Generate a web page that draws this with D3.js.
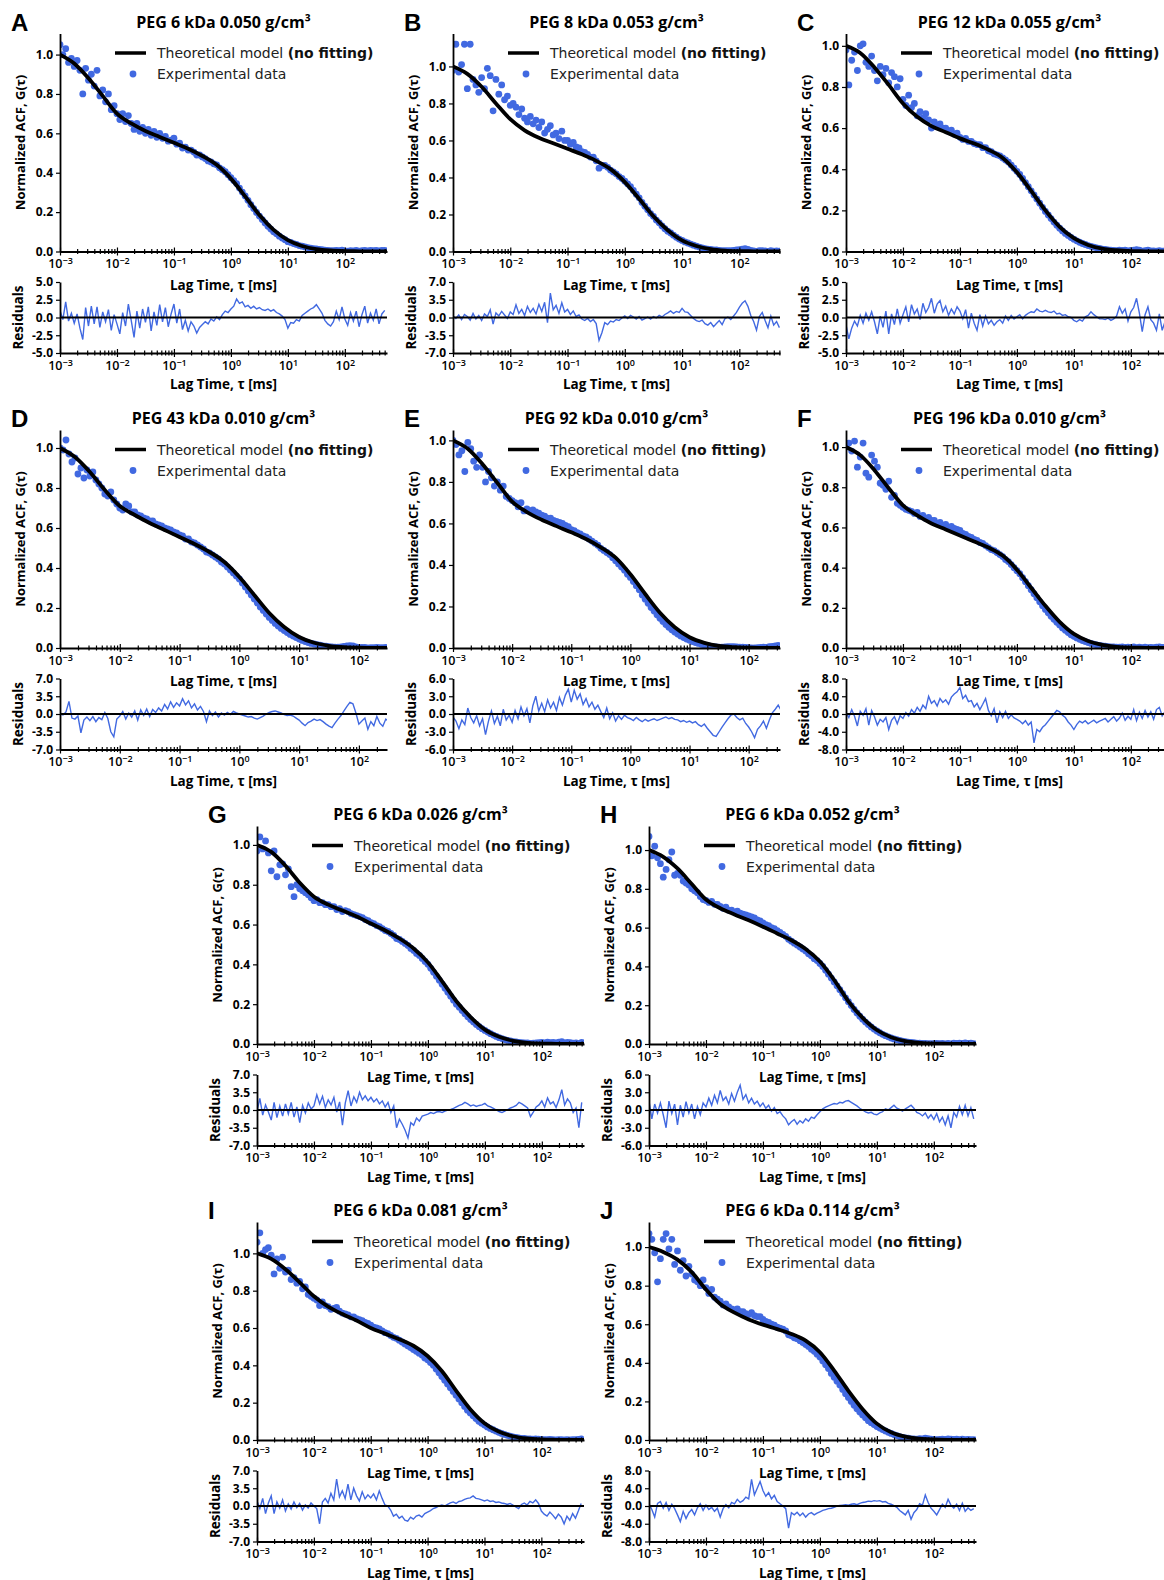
<!DOCTYPE html>
<html><head><meta charset="utf-8">
<script src="https://cdn.jsdelivr.net/npm/d3@7"></script>
<style>body{margin:0;background:#fff}svg{display:block}</style>
</head><body>
<svg id="chart" width="1164" height="1580"></svg>
<script>
// ---------- DATA ----------
// lag-time grid (log10 of tau in ms) shared by experimental points and residuals
const logLag = [-3,-2.95,-2.9,-2.85,-2.8,-2.75,-2.7,-2.65,-2.6,-2.55,
-2.5,-2.45,-2.4,-2.35,-2.3,-2.25,-2.2,-2.15,-2.1,-2.05,
-2,-1.95,-1.9,-1.85,-1.8,-1.75,-1.7,-1.65,-1.6,-1.55,
-1.5,-1.45,-1.4,-1.35,-1.3,-1.25,-1.2,-1.15,-1.1,-1.05,
-1,-0.95,-0.9,-0.85,-0.8,-0.75,-0.7,-0.65,-0.6,-0.55,
-0.5,-0.45,-0.4,-0.35,-0.3,-0.25,-0.2,-0.15,-0.1,-0.05,
0,0.05,0.1,0.15,0.2,0.25,0.3,0.35,0.4,0.45,
0.5,0.55,0.6,0.65,0.7,0.75,0.8,0.85,0.9,0.95,
1,1.05,1.1,1.15,1.2,1.25,1.3,1.35,1.4,1.45,
1.5,1.55,1.6,1.65,1.7,1.75,1.8,1.85,1.9,1.95,
2,2.05,2.1,2.15,2.2,2.25,2.3,2.35,2.4,2.45,
2.5,2.55,2.6,2.65,2.7];
// lag-time grid of the theoretical model curves
const modelLag = [-3,-2.75,-2.5,-2.25,-2,-1.75,-1.5,-1.25,-1,-0.75,-0.5,-0.25,0,0.25,0.5,0.75,1,1.25,1.5,1.75,2,2.25,2.5,2.75];

const panelIds = ["A","B","C","D","E","F","G","H","I","J"];
const titles = ["PEG 6 kDa 0.050 g/cm³","PEG 8 kDa 0.053 g/cm³","PEG 12 kDa 0.055 g/cm³","PEG 43 kDa 0.010 g/cm³","PEG 92 kDa 0.010 g/cm³","PEG 196 kDa 0.010 g/cm³","PEG 6 kDa 0.026 g/cm³","PEG 6 kDa 0.052 g/cm³","PEG 6 kDa 0.081 g/cm³","PEG 6 kDa 0.114 g/cm³"];
const legendLabels = ["Theoretical model ", "(no fitting)", "Experimental data"];
const xTickExponents = [-3,-2,-1,0,1,2];
const yTicksMain = [0,0.2,0.4,0.6,0.8,1.0];
const residLimits = [5,7,5,7,6,8,7,6,7,8];
const yMaxMain = [1.107,1.178,1.06,1.09,1.05,1.085,1.095,1.124,1.168,1.13];
const xMaxExp = [2.74,2.71,2.74,2.47,2.53,2.74,2.74,2.74,2.75,2.74];

const modelA=[1.0,.955,.88,.79,.70,.65,.612,.582,.552,.522,.485,.44,.37,.28,.185,.11,.058,.028,.012,.005,.002,.001,0,0];
const modelB=[1.0,.96,.89,.80,.715,.655,.615,.585,.555,.525,.49,.445,.375,.285,.19,.115,.06,.03,.013,.005,.002,.001,0,0];
const modelC=[1.0,.965,.895,.81,.72,.655,.61,.58,.55,.525,.495,.455,.385,.295,.20,.12,.065,.032,.014,.006,.002,.001,0,0];
const modelD=[1.0,.955,.88,.79,.71,.665,.625,.59,.555,.52,.48,.43,.355,.265,.175,.105,.055,.026,.011,.004,.0015,.0005,0,0];
const modelE=[1.0,.96,.885,.795,.705,.655,.618,.587,.557,.525,.485,.435,.355,.26,.17,.10,.052,.025,.01,.004,.0015,0,0,0];
const modelF=[1.0,.96,.885,.795,.71,.66,.62,.59,.56,.53,.50,.46,.39,.30,.21,.13,.07,.035,.016,.006,.002,.001,0,0];
const modelG=[1.0,.965,.895,.81,.74,.70,.67,.64,.605,.57,.53,.48,.41,.315,.215,.135,.072,.036,.016,.006,.002,.001,0,0];
const modelH=[1.0,.965,.905,.825,.745,.70,.668,.638,.605,.57,.535,.49,.425,.33,.22,.135,.072,.035,.015,.006,.002,.001,0,0];
const modelI=[1.0,.97,.915,.845,.77,.715,.675,.64,.60,.57,.54,.505,.45,.37,.265,.165,.09,.045,.02,.008,.003,.001,0,0];
const modelJ=[1.0,.975,.935,.87,.78,.705,.66,.625,.598,.575,.55,.515,.455,.36,.255,.16,.085,.04,.017,.007,.003,.001,0,0];

const dotsA=[1.05,1.00,1.03,.96,.98,.94,.97,.92,.80,.93,
.87,.90,.84,.92,.79,.82,.76,.80,.72,.74,
.70,.67,.70,.66,.69,.65,.62,.65,.61,.63,
.60,.62,.59,.61,.58,.60,.575,.585,.56,.565,
.575,.545,.55,.525,.53,.515,.515,.505,.49,.49,
.48,.472,.46,.455,.445,.44,.425,.415,.405,.39,
.375,.36,.345,.322,.302,.282,.26,.238,.218,.198,
.18,.162,.145,.128,.114,.10,.09,.078,.068,.06,
.05,.046,.04,.036,.03,.027,.023,.02,.017,.015,
.013,.011,.009,.007,.005,.004,.004,.006,.004,.007,
.003,.002,.004,.003,.005,.002,.004,.006,.003,.005,
.004,.006,.003,.005,.006];
const dotsB=[.98,1.12,.97,1.01,1.12,.88,1.12,.93,.90,.86,
.94,.88,.99,.95,.76,.93,.85,.90,.82,.84,
.79,.80,.78,.74,.77,.72,.70,.73,.69,.71,
.67,.70,.64,.66,.68,.63,.64,.61,.65,.60,
.60,.58,.59,.565,.56,.54,.535,.525,.51,.51,
.49,.45,.465,.465,.455,.44,.43,.42,.405,.395,
.38,.365,.35,.33,.31,.29,.265,.245,.225,.205,
.19,.17,.155,.138,.123,.11,.10,.088,.077,.067,
.06,.052,.046,.04,.034,.029,.024,.02,.016,.013,
.011,.009,.008,.006,.005,.004,.004,.004,.006,.008,
.01,.013,.015,.011,.006,.003,.001,.004,.005,.003,
.001,.004,.002,.003,.002];
const dotsC=[.98,.81,.93,.97,.88,1.0,1.01,.92,.90,.95,
.88,.83,.90,.86,.89,.82,.87,.85,.80,.84,
.74,.71,.76,.70,.72,.66,.68,.65,.67,.64,
.60,.63,.61,.62,.60,.60,.585,.59,.57,.575,
.555,.545,.55,.535,.535,.525,.52,.52,.505,.505,
.49,.485,.475,.47,.465,.455,.445,.435,.42,.405,
.39,.375,.355,.335,.315,.295,.275,.255,.235,.215,
.195,.178,.16,.143,.128,.113,.10,.088,.078,.068,
.06,.052,.045,.039,.034,.029,.025,.021,.018,.015,
.012,.01,.008,.006,.005,.004,.006,.005,.007,.003,
.005,.007,.009,.006,.002,.004,.006,.003,.003,.002,
.004,.002,.003,.002,.003];
const dotsD=[1.0,.99,1.04,.97,.93,.95,.87,.90,.85,.89,
.86,.88,.84,.82,.80,.77,.76,.78,.74,.72,
.70,.69,.72,.71,.68,.68,.665,.66,.65,.645,
.635,.635,.62,.615,.61,.60,.595,.59,.58,.575,
.565,.56,.545,.545,.53,.525,.515,.505,.495,.48,
.475,.465,.455,.445,.43,.42,.405,.39,.375,.36,
.345,.325,.305,.285,.265,.245,.225,.205,.188,.17,
.153,.138,.123,.11,.098,.087,.077,.068,.06,.052,
.045,.038,.032,.027,.023,.02,.017,.014,.011,.009,
.007,.005,.004,.004,.006,.008,.01,.012,.011,.006,
.002,.003,.003,.001,.002,.002,.003,.002,.002,.003,
.002,.003,.002,.003,.002];
const dotsE=[1.0,.98,.93,.95,.85,.99,.96,.90,.87,.93,
.87,.80,.85,.82,.78,.80,.76,.78,.73,.72,
.71,.70,.68,.70,.66,.67,.66,.665,.655,.65,
.64,.635,.625,.625,.615,.61,.605,.60,.59,.585,
.57,.565,.555,.55,.54,.535,.525,.515,.505,.495,
.48,.47,.46,.45,.435,.42,.405,.39,.375,.355,
.34,.32,.30,.28,.255,.235,.215,.195,.178,.16,
.143,.128,.113,.10,.088,.077,.067,.058,.05,.043,
.037,.031,.026,.022,.018,.015,.012,.009,.007,.005,
.004,.004,.005,.006,.007,.007,.005,.004,.004,.003,
.002,.001,0,.002,.003,.004,.003,.006,.008,.01,
.012,.011,.012,.01,.011];
const dotsF=[1.0,1.02,.98,1.03,.90,.95,1.02,.87,.85,.96,
.93,.90,.82,.81,.79,.83,.75,.76,.72,.71,
.70,.69,.685,.68,.67,.675,.655,.66,.645,.65,
.635,.635,.62,.625,.61,.615,.60,.605,.595,.59,
.585,.57,.565,.555,.55,.54,.535,.525,.52,.51,
.50,.49,.485,.475,.465,.455,.44,.43,.415,.40,
.385,.37,.35,.33,.31,.29,.27,.25,.23,.21,
.192,.175,.158,.143,.128,.115,.10,.088,.077,.066,
.058,.05,.043,.037,.032,.027,.023,.019,.016,.013,
.011,.009,.007,.006,.005,.004,.004,.005,.003,.004,
.003,.005,.002,.004,.002,.004,.002,.003,.002,.004,
.006,.003,.004,.002,.003];
const dotsG=[.97,1.04,.98,1.02,.96,.87,.97,.84,.90,.905,
.85,.88,.79,.74,.80,.78,.77,.76,.75,.735,
.72,.725,.71,.71,.70,.70,.69,.69,.675,.68,
.665,.67,.665,.655,.65,.645,.64,.635,.625,.62,
.61,.605,.595,.59,.58,.57,.565,.555,.545,.53,
.525,.515,.505,.495,.48,.47,.455,.445,.43,.415,
.40,.38,.36,.34,.32,.30,.28,.26,.24,.22,
.20,.185,.168,.152,.137,.123,.11,.098,.087,.077,
.068,.06,.052,.045,.038,.032,.027,.022,.018,.015,
.012,.01,.008,.007,.006,.005,.003,.004,.006,.007,
.008,.006,.009,.007,.008,.005,.009,.012,.006,.008,
.007,.004,.005,.002,.008];
const dotsH=[1.07,.97,1.02,.96,.93,.86,.90,.95,.99,.87,
.88,.87,.84,.83,.82,.80,.79,.78,.76,.745,
.74,.73,.735,.72,.72,.71,.70,.705,.69,.69,
.68,.685,.675,.67,.665,.66,.655,.65,.64,.635,
.625,.615,.61,.60,.595,.585,.575,.565,.555,.54,
.53,.52,.51,.50,.49,.48,.465,.455,.44,.43,
.415,.40,.38,.36,.34,.32,.30,.28,.26,.238,
.218,.198,.178,.16,.143,.128,.113,.10,.088,.077,
.067,.058,.05,.043,.037,.031,.026,.022,.018,.015,
.012,.01,.008,.007,.005,.004,.003,.003,.002,.002,
.002,.003,.002,.003,.001,.003,.001,.004,.003,.005,
.003,.006,.003,.005,.002];
const dotsI=[1.06,1.11,1.0,1.02,1.03,.99,.89,.97,.92,.98,
.90,.91,.86,.87,.84,.85,.81,.82,.78,.77,
.76,.75,.72,.74,.72,.715,.70,.705,.71,.69,
.68,.675,.67,.66,.66,.65,.645,.64,.63,.625,
.615,.605,.60,.595,.585,.575,.57,.56,.55,.545,
.535,.525,.515,.505,.495,.485,.475,.465,.455,.44,
.43,.415,.40,.38,.36,.34,.32,.30,.28,.26,
.24,.22,.20,.18,.16,.145,.13,.115,.10,.09,
.08,.07,.062,.055,.048,.041,.035,.03,.025,.021,
.017,.014,.011,.009,.008,.006,.006,.005,.006,.005,
.003,.002,.002,.003,.002,.001,.002,.002,.001,.002,
.001,.002,.002,.003,.006];
const dotsJ=[1.07,1.04,.97,.82,.94,1.04,1.07,.99,1.04,.91,
.98,.88,.93,.85,.90,.86,.83,.82,.80,.83,
.79,.76,.78,.74,.73,.72,.70,.705,.69,.68,
.675,.68,.665,.665,.655,.65,.66,.645,.64,.64,
.625,.615,.61,.60,.595,.585,.58,.575,.565,.545,
.54,.53,.525,.515,.505,.495,.485,.47,.46,.445,
.43,.41,.39,.37,.345,.325,.305,.285,.262,.24,
.22,.20,.18,.162,.145,.13,.115,.10,.09,.08,
.07,.062,.054,.047,.04,.034,.028,.023,.018,.014,
.011,.009,.006,.006,.005,.007,.006,.009,.007,.004,
.003,.002,.003,.004,.003,.006,.004,.003,.004,.002,
.004,.002,.003,.002,.002];

const residA=[1.0,-0.3,2.2,-0.5,0.6,-0.8,0.5,-1.5,-3.1,1.4,
-1.2,1.6,-0.9,1.5,-1.4,0.8,-0.6,1.1,-1.8,0.4,
-0.9,-2.3,0.7,-1.2,1.9,-0.4,-2.8,0.9,-1.5,1.2,
-0.7,1.5,-1.9,0.8,-1.1,1.8,-0.6,1.4,-1.3,0.5,
1.9,-0.8,1.2,-1.7,-0.4,-1.9,-0.6,-1.2,-2.2,-1.4,
-1.0,-0.6,-0.9,-0.2,-0.5,0.1,-0.3,0.4,0.9,0.7,
1.2,1.6,2.6,2.0,2.2,1.5,1.7,1.3,1.6,1.2,
1.4,1.1,1.0,1.2,0.9,1.1,0.7,0.5,0.2,-0.3,
-1.5,-0.7,-0.8,-0.3,-0.5,0.3,0.6,0.9,1.2,1.4,
1.8,1.2,0.6,-0.4,-0.9,-1.2,-0.6,0.9,-0.3,1.5,
-0.2,-1.1,0.7,-0.5,0.9,-1.3,0.4,1.6,-0.8,0.6,
-0.4,1.2,-0.9,0.5,1.0];
const residB=[0.3,-0.2,0.5,-0.4,0.6,0.2,-0.5,0.8,-0.3,0.4,
-0.6,0.7,0.2,1.5,-1.3,0.9,0.3,1.2,0.5,-0.2,
1.1,0.6,2.5,0.8,1.6,0.4,2.2,1.0,1.8,0.7,
2.6,1.2,3.0,-1.0,4.8,1.5,2.4,0.8,2.9,1.1,
1.6,0.6,1.3,0.2,0.5,-0.3,-0.6,-0.2,-0.8,-0.4,
-1.2,-4.5,-3.0,-1.0,-1.4,-0.7,-0.9,-0.4,-0.6,-0.1,
0.3,-0.2,0.4,0.1,-0.3,0.2,-0.5,-0.2,0.1,-0.3,
0.2,-0.1,0.4,0.1,0.6,0.9,1.3,0.8,1.2,1.0,
1.8,1.1,1.0,0.4,-0.2,-0.6,-0.8,-0.5,-1.2,-1.5,
-1.0,-1.8,-1.2,-0.6,-1.4,-0.2,0.1,-0.4,0.3,1.0,
2.0,2.8,3.3,2.2,0.4,-0.8,-2.5,0.2,1.0,-0.6,
-2.0,0.3,-1.5,-0.8,-2.0];
const residC=[-1.0,-3.0,-1.5,-0.5,-1.2,0.3,-0.8,0.6,-0.4,0.8,
-0.6,-2.3,0.2,-1.4,0.9,-2.3,0.5,-1.0,1.2,-0.8,
0.4,1.5,-0.6,1.8,0.5,1.2,-0.3,2.0,0.7,1.4,
2.7,0.6,1.9,2.4,0.8,1.6,0.3,1.2,0.5,1.5,
0.9,-0.2,1.1,-1.5,0.6,-0.8,-1.8,0.4,-1.2,0.2,
-0.9,-0.4,-1.1,-0.6,-0.3,-0.8,0.2,-0.4,0.3,-0.2,
0.1,0.4,-0.2,0.3,0.6,0.8,0.7,1.2,0.9,0.8,
1.0,0.8,0.7,0.9,0.5,0.6,0.3,0.4,0.1,0.0,
-0.4,-0.6,-0.3,-0.5,0.1,0.3,0.8,0.4,0.1,-0.2,
-0.2,-0.3,-0.1,-0.4,-0.2,0.2,1.5,0.6,1.2,-0.5,
0.8,1.4,2.7,0.6,-2.0,0.4,1.5,-0.3,-0.8,-1.8,
0.5,-1.8,-0.6,-1.5,-1.0];
const residD=[0.0,-0.2,0.4,2.5,-0.8,-1.0,-0.4,-3.7,-1.2,-0.6,
-1.3,-0.5,-1.5,-0.7,-1.1,0.3,-0.9,-3.5,-4.5,-1.0,
-0.4,0.5,-1.0,0.2,-0.6,0.6,-1.2,0.8,-0.3,1.0,
-0.5,0.9,0.3,1.2,0.6,1.9,1.0,2.4,1.3,2.2,
1.6,3.0,1.8,2.6,1.2,2.0,0.8,1.5,0.5,-1.5,
0.6,-0.3,0.4,-0.6,0.2,-0.2,0.3,-0.1,0.5,0.2,
0.0,-0.2,-0.4,-0.6,-0.5,-0.8,-1.0,-0.7,-0.4,0.0,
0.3,0.5,0.6,0.4,0.2,-0.1,-0.3,-0.2,-0.4,-0.8,
-1.2,-1.8,-2.3,-1.7,-1.4,-1.0,-1.3,-1.1,-1.5,-2.0,
-2.4,-2.7,-1.8,-1.0,-0.3,0.6,1.5,2.3,2.0,0.2,
-2.0,-1.4,-0.8,-3.0,-1.5,-2.3,-0.5,-1.8,-2.4,-1.0,
-1.5,-0.8,-1.6,-1.2,-0.9];
const residE=[-0.5,-1.2,-2.5,-1.0,-1.8,1.0,-0.6,-1.5,-0.3,-2.0,
-0.8,-3.5,-1.2,0.5,-1.6,-0.4,-2.0,0.8,-1.0,-0.2,
-1.4,0.6,-0.8,1.2,-0.3,0.9,-1.5,1.4,3.0,0.5,
1.8,0.4,2.4,1.0,2.0,0.6,2.8,1.5,3.2,4.2,
2.0,4.0,2.5,3.4,1.6,2.6,1.2,2.0,0.8,1.5,
0.4,-0.6,1.0,-0.8,0.2,-1.2,-0.3,-0.9,-0.2,-0.6,
-0.8,-1.1,-0.6,-1.0,-1.3,-0.9,-1.2,-1.0,-0.8,-1.1,
-0.9,-0.7,-0.5,-0.8,-0.6,-0.9,-1.0,-1.3,-1.1,-1.4,
-1.2,-1.5,-1.3,-1.8,-2.1,-1.7,-2.4,-3.0,-3.6,-3.8,
-3.0,-2.2,-1.5,-0.8,-0.2,0.0,-0.6,-1.0,-0.7,-1.6,
-2.2,-3.0,-4.0,-2.6,-2.0,-1.2,-2.4,-1.0,0.2,0.8,
1.5,0.6,1.0,0.4,0.8];
const residF=[0.4,-0.8,1.0,-0.5,-2.7,0.6,-0.3,1.2,-2.5,0.8,
-0.6,-2.5,-1.2,-1.8,-0.8,-3.5,-1.4,-0.6,-2.2,-0.4,
-1.0,0.3,-0.5,1.0,0.2,1.5,0.6,2.0,1.2,4.0,
2.4,3.0,1.8,3.5,2.6,3.2,2.2,3.8,4.5,5.0,
6.0,3.5,4.2,2.8,3.0,1.6,2.4,1.0,2.2,3.5,
0.8,-0.4,1.2,-2.0,0.5,-0.8,0.6,-1.0,-0.2,-0.9,
-1.2,-1.6,-2.2,-1.5,-2.5,-1.8,-6.5,-3.5,-4.0,-3.0,
-2.4,-1.6,-0.8,0.0,0.8,0.5,-0.3,-0.8,-1.8,-2.5,
-3.5,-2.4,-1.6,-2.0,-1.5,-2.2,-1.8,-1.4,-2.0,-1.6,
-1.3,-1.0,-1.8,-1.2,-0.6,-1.6,-0.9,0.2,-1.4,-0.5,
-1.2,1.0,-1.5,0.4,-1.0,0.8,-0.7,0.5,-1.2,1.0,
1.5,-0.4,0.6,-1.2,0.2];
const residG=[-0.3,2.3,-1.0,1.0,-0.4,-2.0,1.5,-1.5,0.8,-1.2,
1.2,-0.8,1.5,-1.4,0.6,-2.5,0.9,-0.6,1.4,0.2,
0.8,3.0,1.2,2.7,0.5,2.0,1.0,2.5,-0.4,1.6,
-3.0,1.4,3.8,0.8,2.6,1.5,3.5,2.0,2.8,1.8,
2.5,1.6,2.2,1.2,1.8,0.6,1.5,-0.5,0.8,-3.5,
-1.8,-2.8,-4.0,-5.5,-2.5,-3.0,-1.6,-2.2,-1.2,-1.0,
-0.8,-0.5,-0.7,-0.4,-0.3,-0.5,-0.2,0.0,0.1,0.3,
0.6,0.9,1.1,1.5,1.2,0.8,1.0,0.7,0.9,1.0,
1.3,0.8,0.6,0.3,0.0,-0.3,-0.5,-0.2,0.1,0.4,
0.6,0.9,1.5,1.2,0.8,0.4,-1.3,-0.4,0.6,1.0,
1.8,0.6,2.4,1.2,1.6,0.5,2.0,4.0,1.0,2.2,
1.4,-0.5,0.4,-3.5,1.5];
const residH=[1.5,-1.5,1.0,-0.5,1.2,-0.8,-3.0,1.5,-0.6,1.0,
-2.5,0.8,-1.2,1.4,-0.5,1.0,-1.5,0.6,-0.8,1.2,
0.5,2.0,0.8,2.5,1.2,3.3,1.6,2.2,1.0,2.8,
1.5,3.0,4.2,1.8,2.6,1.2,2.0,1.0,1.5,0.6,
1.2,0.3,0.8,-0.2,0.4,-0.6,-0.3,-1.0,-1.5,-2.5,
-2.0,-1.6,-2.4,-1.8,-2.2,-1.5,-1.9,-1.2,-1.4,-0.8,
-0.3,0.2,0.5,0.7,0.9,1.1,1.0,1.3,1.2,1.5,
1.6,1.3,1.0,0.7,0.3,0.0,-0.3,-0.5,-0.4,-0.7,
-0.8,-0.5,-0.3,0.2,0.0,0.4,0.8,0.3,0.1,-0.2,
0.2,0.5,0.8,0.3,-0.4,-0.6,-1.0,-0.5,-1.4,-0.8,
-1.6,-0.6,-2.0,-1.2,-2.5,-1.0,-3.0,-0.4,-1.2,0.6,
-0.8,0.8,-1.0,0.4,-1.5];
const residI=[1.0,-0.5,1.5,-1.5,0.6,2.0,-1.5,0.8,-0.4,1.2,
-1.0,0.4,-0.6,0.8,-0.3,0.5,-0.8,0.2,-0.4,0.6,
0.0,-0.5,-3.5,0.8,1.5,0.6,2.5,1.2,5.3,1.8,
3.0,1.5,4.3,1.2,3.5,2.0,1.0,2.8,1.4,2.2,
1.6,2.4,1.2,3.0,1.5,0.2,0.0,-0.8,-2.0,-1.6,
-2.4,-2.0,-2.8,-3.0,-2.2,-2.6,-2.0,-1.8,-2.2,-1.5,
-1.2,-0.9,-0.5,-0.3,0.0,0.2,0.0,0.3,0.6,0.8,
0.5,0.9,1.0,1.3,1.5,1.6,2.0,1.5,1.4,1.2,
1.0,1.2,0.9,1.0,0.7,0.8,0.6,0.5,0.3,0.5,
0.2,-0.2,-0.5,0.3,0.6,0.2,0.9,0.6,1.2,0.5,
-1.0,-1.6,-2.0,-1.2,-1.8,-2.5,-1.6,-2.2,-3.5,-2.0,
-2.8,-1.5,-2.4,-1.0,0.5];
const residJ=[0.5,-0.8,-2.5,0.6,1.0,-0.5,0.8,-1.0,0.4,-0.6,
-2.0,-3.5,-1.2,-2.8,-1.5,-0.8,-2.0,-0.4,0.5,-1.0,
0.2,-0.8,-0.3,-1.2,-0.5,-2.5,-0.6,0.3,-0.4,0.8,
0.5,1.5,0.8,1.2,2.0,1.6,6.0,2.5,4.0,5.5,
3.5,2.2,3.0,1.6,2.4,1.0,0.5,0.0,-0.6,-5.0,
-1.5,-2.0,-1.4,-2.2,-1.6,-2.5,-1.8,-1.5,-2.0,-1.6,
-1.3,-1.0,-0.8,-0.6,-0.5,-0.3,0.0,0.1,0.2,0.3,
0.2,0.4,0.5,0.3,0.6,0.8,0.9,1.1,1.0,1.2,
1.1,1.2,0.9,1.0,0.6,0.4,0.1,-0.3,-1.0,-1.5,
-2.0,-1.0,-3.0,-1.5,-0.8,0.5,0.2,2.5,0.8,-0.5,
-1.2,-2.0,-0.8,0.4,-0.3,1.5,0.2,-0.5,0.4,-1.0,
0.6,-1.2,-0.4,-1.0,-0.6];

const modelSeries=[modelA,modelB,modelC,modelD,modelE,modelF,modelG,modelH,modelI,modelJ];
const dotSeries=[dotsA,dotsB,dotsC,dotsD,dotsE,dotsF,dotsG,dotsH,dotsI,dotsJ];
const residSeries=[residA,residB,residC,residD,residE,residF,residG,residH,residI,residJ];

// ---------- LAYOUT ----------
const panelLeft=[60,453,846,60,453,846,257,649,257,649];
const panelRow=[0,0,0,1,1,1,2,2,3,3];
const rowBottoms=[251.5,648,1044,1440];
const W=327, MAIN_H=218, RES_GAP=30.5, RES_H=71;
const BLUE="#4169e1";
const LABEL_FONT="'Open Sans', sans-serif";
const LEGEND_FONT="'DejaVu Sans', sans-serif";

const svg=d3.select("#chart");
svg.append("rect").attr("width",1164).attr("height",1580).attr("fill","#fff");
const defs=svg.append("defs");

function styleXAxis(ga, minor){
  ga.select(".domain").attr("stroke","#000").attr("stroke-width",1.8);
  ga.selectAll(".tick line").attr("stroke","#000").attr("stroke-width",1.2)
    .attr("y1",minor?-2.5:-4).attr("y2",minor?2.5:4);
}

panelIds.forEach((id,i)=>{
  const x0=panelLeft[i], bottom=rowBottoms[panelRow[i]], top=bottom-MAIN_H;
  const rTop=bottom+RES_GAP, rBottom=rTop+RES_H;
  const R=residLimits[i];
  const x=d3.scaleLog().domain([1e-3,Math.pow(10,xMaxExp[i])]).range([x0,x0+W]);
  const y=d3.scaleLinear().domain([0,yMaxMain[i]]).range([bottom,top]);
  const yr=d3.scaleLinear().domain([-R,R]).range([rBottom,rTop]);
  const g=svg.append("g").attr("class","panel-"+id);

  defs.append("clipPath").attr("id","clipM"+id).append("rect")
    .attr("x",x0).attr("y",top).attr("width",W).attr("height",MAIN_H);
  defs.append("clipPath").attr("id","clipR"+id).append("rect")
    .attr("x",x0).attr("y",rTop).attr("width",W).attr("height",RES_H);

  const majors=xTickExponents.map(e=>Math.pow(10,e));
  const minors=[];
  xTickExponents.forEach(e=>{for(let m=2;m<=9;m++){const v=m*Math.pow(10,e); if(v<=x.domain()[1]) minors.push(v);}});

  // ----- main plot -----
  const dots=dotSeries[i].map((v,k)=>({t:Math.pow(10,logLag[k]),v}));
  g.append("g").attr("clip-path","url(#clipM"+id+")").selectAll("circle").data(dots).join("circle")
    .attr("cx",d=>x(d.t)).attr("cy",d=>y(d.v)).attr("r",3.4).attr("fill",BLUE);
  const model=modelSeries[i].map((v,k)=>({t:Math.pow(10,modelLag[k]),v}));
  g.append("path").attr("clip-path","url(#clipM"+id+")").datum(model)
    .attr("d",d3.line().x(d=>x(d.t)).y(d=>y(d.v)).curve(d3.curveMonotoneX))
    .attr("fill","none").attr("stroke","#000").attr("stroke-width",3.8);

  function addXAxis(yPos){
    const gm=g.append("g").attr("transform",`translate(0,${yPos})`)
      .call(d3.axisBottom(x).tickValues(minors).tickFormat(()=>"").tickSizeOuter(0));
    gm.select(".domain").remove();
    styleXAxis(gm,true);
    const ga=g.append("g").attr("transform",`translate(0,${yPos})`)
      .call(d3.axisBottom(x).tickValues(majors).tickFormat(()=>"").tickSize(4).tickPadding(4).tickSizeOuter(0));
    styleXAxis(ga,false);
    ga.attr("font-family",LABEL_FONT).attr("font-size",12.5).attr("font-weight",600);
    ga.selectAll(".tick text").attr("fill","#000").each(function(d){
      const e=Math.round(Math.log10(d));
      const t=d3.select(this);
      t.append("tspan").text("10");
      t.append("tspan").attr("dy","-0.45em").attr("font-size",9).text(e<0?"−"+(-e):String(e));
    });
  }
  addXAxis(bottom);
  const gy=g.append("g").attr("transform",`translate(${x0},0)`)
    .call(d3.axisLeft(y).tickValues(yTicksMain).tickFormat(d=>d.toFixed(1)).tickSize(4).tickPadding(3).tickSizeOuter(0));
  gy.select(".domain").attr("stroke","#000").attr("stroke-width",1.8);
  gy.selectAll(".tick line").attr("stroke","#000").attr("stroke-width",1.2);
  gy.attr("font-family",LABEL_FONT).attr("font-size",12).attr("font-weight",700);
  gy.selectAll(".tick text").attr("fill","#000");

  // axis labels
  g.append("text").attr("x",x0+W/2).attr("y",bottom+38).attr("text-anchor","middle")
    .attr("font-family",LABEL_FONT).attr("font-weight",700).attr("font-size",13.5).text("Lag Time, τ [ms]");
  g.append("text").attr("transform",`translate(${x0-40},${(top+bottom)/2}) rotate(-90)`)
    .attr("text-anchor","middle").attr("dy","0.35em")
    .attr("font-family",LABEL_FONT).attr("font-weight",700).attr("font-size",13).text("Normalized ACF, G(τ)");
  // title and letter
  g.append("text").attr("x",x0+W/2).attr("y",top-6).attr("text-anchor","middle")
    .attr("font-family",LABEL_FONT).attr("font-weight",700).attr("font-size",16).text(titles[i]);
  g.append("text").attr("x",x0-49).attr("y",top-3)
    .attr("font-family","'Liberation Sans', Arial, sans-serif").attr("font-weight",700).attr("font-size",24).text(id);
  // legend
  const lg=g.append("g");
  lg.append("line").attr("x1",x0+55).attr("x2",x0+86).attr("y1",top+19.5).attr("y2",top+19.5)
    .attr("stroke","#000").attr("stroke-width",3.5);
  const lt=lg.append("text").attr("x",x0+97).attr("y",top+19.5).attr("dy","0.36em")
    .attr("font-family",LEGEND_FONT).attr("font-size",14).attr("fill","#222");
  lt.append("tspan").text(legendLabels[0]);
  lt.append("tspan").attr("font-weight",700).attr("fill","#111").text(legendLabels[1]);
  lg.append("circle").attr("cx",x0+73).attr("cy",top+40.5).attr("r",3.4).attr("fill",BLUE);
  lg.append("text").attr("x",x0+97).attr("y",top+40.5).attr("dy","0.36em")
    .attr("font-family",LEGEND_FONT).attr("font-size",14).attr("fill","#222").text(legendLabels[2]);

  // ----- residual plot -----
  const res=residSeries[i].map((v,k)=>({t:Math.pow(10,logLag[k]),v}));
  g.append("path").attr("clip-path","url(#clipR"+id+")").datum(res)
    .attr("d",d3.line().x(d=>x(d.t)).y(d=>yr(d.v)))
    .attr("fill","none").attr("stroke",BLUE).attr("stroke-width",1.4);
  g.append("line").attr("x1",x0).attr("x2",x0+W).attr("y1",yr(0)).attr("y2",yr(0))
    .attr("stroke","#000").attr("stroke-width",1.8);
  addXAxis(rBottom);
  const gry=g.append("g").attr("transform",`translate(${x0},0)`)
    .call(d3.axisLeft(yr).tickValues([R,R/2,0,-R/2,-R]).tickFormat(d=>d.toFixed(1)).tickSize(4).tickPadding(3).tickSizeOuter(0));
  gry.select(".domain").attr("stroke","#000").attr("stroke-width",1.8);
  gry.selectAll(".tick line").attr("stroke","#000").attr("stroke-width",1.2);
  gry.attr("font-family",LABEL_FONT).attr("font-size",12).attr("font-weight",700);
  gry.selectAll(".tick text").attr("fill","#000");
  g.append("text").attr("x",x0+W/2).attr("y",rBottom+36).attr("text-anchor","middle")
    .attr("font-family",LABEL_FONT).attr("font-weight",700).attr("font-size",13.5).text("Lag Time, τ [ms]");
  g.append("text").attr("transform",`translate(${x0-42},${(rTop+rBottom)/2}) rotate(-90)`)
    .attr("text-anchor","middle").attr("dy","0.35em")
    .attr("font-family",LABEL_FONT).attr("font-weight",700).attr("font-size",13.5).text("Residuals");
});
</script>
</body></html>
